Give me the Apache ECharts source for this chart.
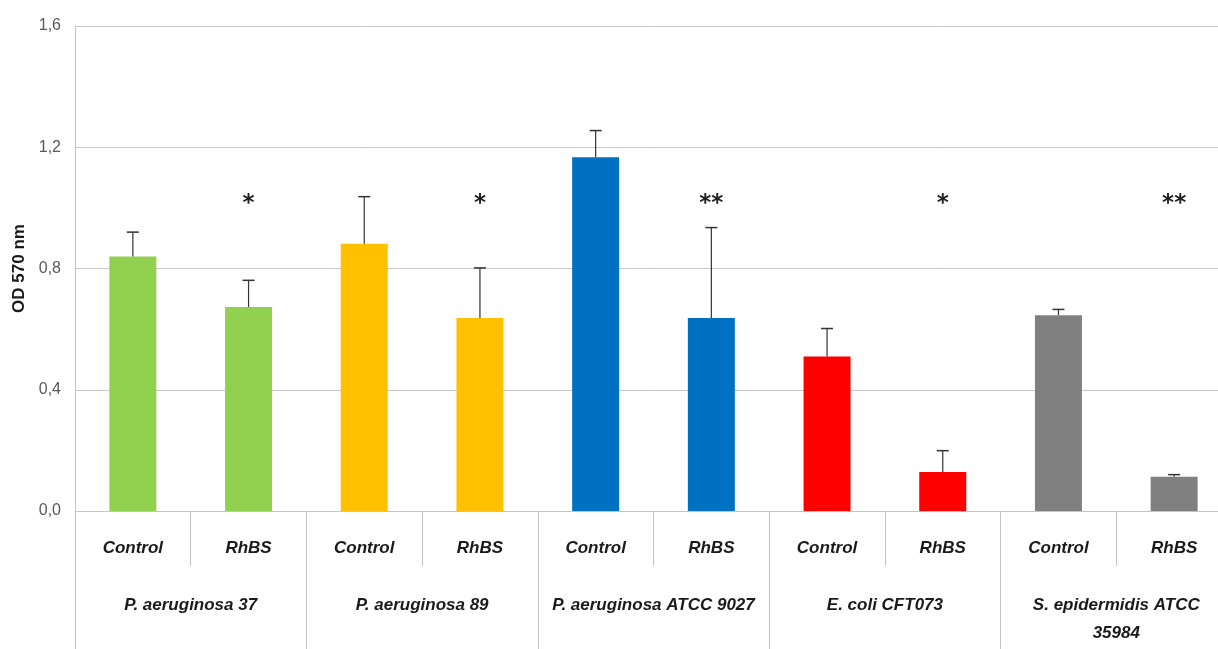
<!DOCTYPE html>
<html>
<head>
<meta charset="utf-8">
<script src="https://cdn.jsdelivr.net/npm/echarts@6/dist/echarts.min.js"></script>
<style>
html,body{margin:0;padding:0;background:#fff;overflow:hidden;width:1218px;height:649px;}
#chart{width:1232px;height:649px;}
</style>
</head>
<body>
<div id="chart"></div>
<script>
const treatments = ['Control','RhBS','Control','RhBS','Control','RhBS','Control','RhBS','Control','RhBS'];
const strains = ['P. aeruginosa 37','P. aeruginosa 89','P. aeruginosa ATCC 9027','E. coli CFT073','S. epidermidis ATCC\n35984'];
const odValues = [0.840, 0.673, 0.882, 0.637, 1.167, 0.637, 0.510, 0.129, 0.646, 0.113];
const sdValues = [0.080, 0.088, 0.155, 0.165, 0.088, 0.298, 0.092, 0.070, 0.019, 0.007];
const significance = ['', '*', '', '*', '', '**', '', '*', '', '**'];
const significanceLevel = 1.03;
const strainColors = ['#92D050','#FFC000','#0070C0','#FF0000','#808080'];

const chart = echarts.init(document.getElementById('chart'));
const labelFont = {fontFamily:'Liberation Sans, Arial, sans-serif', fontStyle:'italic', fontWeight:'bold', fontSize:17, color:'#1a1a1a'};

chart.setOption({
  animation:false,
  grid:{left:75, right:0, top:26, bottom:138, containLabel:false},
  xAxis:[{
    type:'category',
    data:treatments,
    position:'bottom',
    axisLine:{show:true, lineStyle:{color:'#c4c4c4', width:1}},
    axisTick:{show:true, alignWithLabel:false, length:55, lineStyle:{color:'#c4c4c4'}},
    axisLabel:Object.assign({margin:29, interval:0}, labelFont),
    splitLine:{show:false}
  },{
    type:'category',
    data:strains,
    position:'bottom',
    axisLine:{show:false},
    axisTick:{show:true, alignWithLabel:false, length:140, lineStyle:{color:'#c4c4c4'}},
    axisLabel:Object.assign({margin:80, interval:0, lineHeight:28, verticalAlign:'top'}, labelFont),
    splitLine:{show:false}
  }],
  yAxis:{
    type:'value',
    min:0, max:1.6, interval:0.4,
    name:'OD 570 nm',
    nameLocation:'middle',
    nameRotate:90,
    nameGap:46,
    nameTextStyle:{fontFamily:'Liberation Sans, Arial, sans-serif', fontWeight:'bold', fontSize:17, color:'#1a1a1a'},
    axisLine:{show:true, lineStyle:{color:'#c4c4c4'}},
    axisTick:{show:false},
    axisLabel:{margin:14, fontFamily:'Liberation Sans, Arial, sans-serif', fontSize:16, color:'#595959',
      formatter:v=>v.toFixed(1).replace('.',',')},
    splitLine:{show:true, lineStyle:{color:'#c8c8c8', width:1}}
  },
  series:[{
    type:'bar',
    xAxisIndex:0,
    barWidth:47,
    data:odValues.map((v,i)=>({value:v, itemStyle:{color:strainColors[Math.floor(i/2)]}})),
    z:2
  },{
    type:'custom',
    xAxisIndex:0,
    data:odValues.map((v,i)=>[i, v, v+sdValues[i]]),
    renderItem:function(params, api){
      const base = api.coord([api.value(0), api.value(1)]);
      const top = api.coord([api.value(0), api.value(2)]);
      const half = 6;
      return {type:'group', children:[
        {type:'line', shape:{x1:base[0], y1:base[1], x2:top[0], y2:top[1]}, style:{stroke:'#333', lineWidth:1.2}},
        {type:'line', shape:{x1:top[0]-half, y1:top[1], x2:top[0]+half, y2:top[1]}, style:{stroke:'#333', lineWidth:1.5}}
      ]};
    },
    z:3
  },{
    type:'custom',
    xAxisIndex:0,
    data:significance.map((s,i)=>[i, significanceLevel]),
    renderItem:function(params, api){
      const p = api.coord([api.value(0), api.value(1)]);
      const s = significance[params.dataIndex];
      return {type:'text', style:{text:s, x:p[0], y:p[1]+5, textAlign:'center', textVerticalAlign:'middle',
        font:'bold 23px "DejaVu Sans", sans-serif', fill:'#222'}};
    },
    z:4
  }]
});
</script>
</body>
</html>
